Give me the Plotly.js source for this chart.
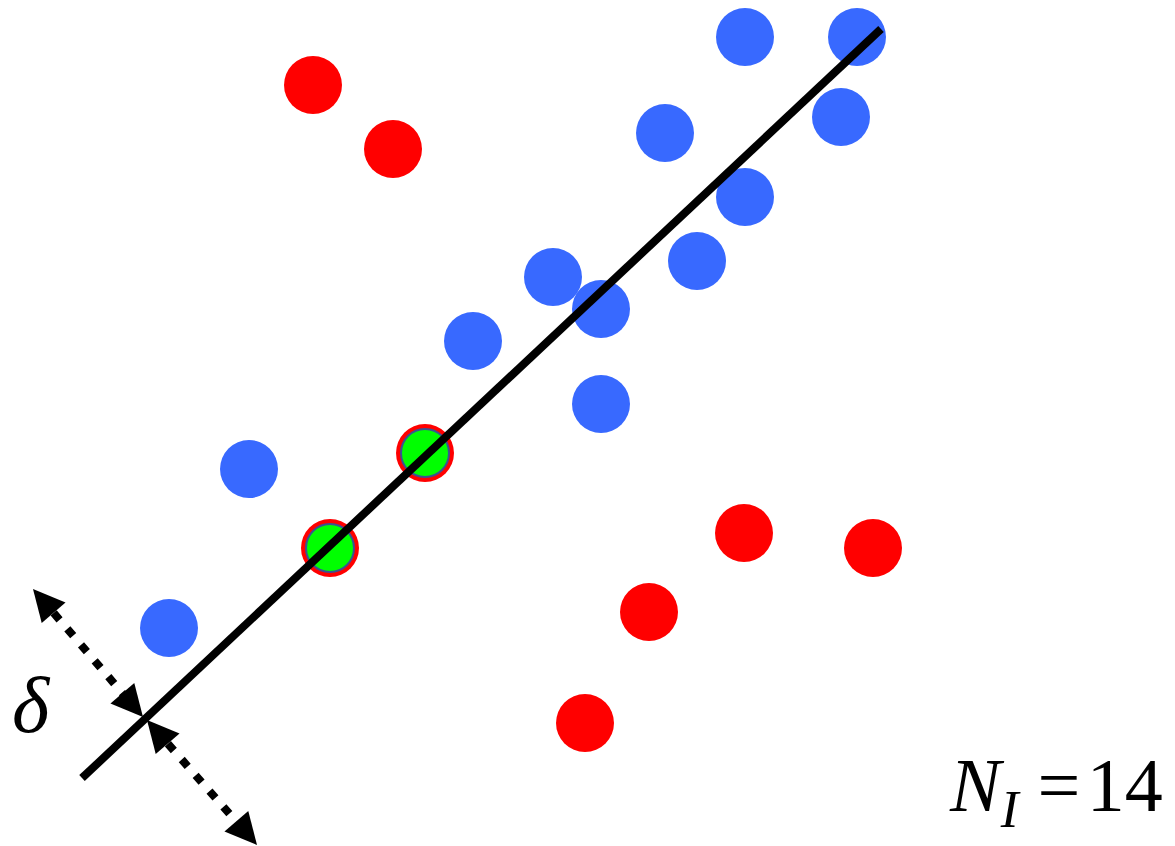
<!DOCTYPE html>
<html>
<head>
<meta charset="utf-8">
<script src="https://cdn.plot.ly/plotly-3.0.1.min.js"></script>
<style>html,body{margin:0;padding:0;background:#fff;}#chart{width:1175px;height:846px;}</style>
</head>
<body>
<div id="chart"></div>
<script>
// Outliers (red)
var outlierX = [313, 393, 744, 873, 649, 585];
var outlierY = [85, 149, 533, 548, 612, 723];
// Inliers (blue)
var inlierX = [745, 857, 841, 665, 745, 697, 553, 601, 473, 601, 249, 169];
var inlierY = [37, 37, 117, 133, 197, 261, 277, 309, 341, 404, 469, 628];
// Sampled points defining the model (green)
var sampleX = [425, 330];
var sampleY = [453, 548];
// Fitted line
var lineX = [82, 881];
var lineY = [778, 29];
// Threshold arrows (delta band)
var arrow1X = [40, 136];
var arrow1Y = [597, 709];
var arrow2X = [154, 250];
var arrow2Y = [728, 837];
var arrowTipX = [33, 143, 147, 257];
var arrowTipY = [589, 717, 720, 845];
var arrowTailX = [46, 130, 160, 244];
var arrowTailY = [604, 702, 735, 830];
// Labels
var deltaLabel = "<i>δ</i>";
var countLabel = "<i>N</i><sub><i>I</i></sub> =\u200A14";

var serif = "Liberation Serif";

var traces = [
  {x: outlierX, y: outlierY, mode: 'markers', type: 'scatter',
   marker: {size: 58, color: '#FF0000', line: {width: 0}}},
  {x: inlierX, y: inlierY, mode: 'markers', type: 'scatter',
   marker: {size: 58, color: '#3869FF', line: {width: 0}}},
  {x: sampleX, y: sampleY, mode: 'markers', type: 'scatter',
   marker: {size: 58, color: '#FF0000', line: {width: 0}}},
  {x: sampleX, y: sampleY, mode: 'markers', type: 'scatter',
   marker: {size: 48, color: '#00FF00', line: {width: 2, color: '#3A5390'}}},
  {x: lineX, y: lineY, mode: 'lines', type: 'scatter',
   line: {color: '#000000', width: 8}},
  {x: arrow1X, y: arrow1Y, mode: 'lines', type: 'scatter',
   line: {color: '#000000', width: 8, dash: '9px,12px'}},
  {x: arrow2X, y: arrow2Y, mode: 'lines', type: 'scatter',
   line: {color: '#000000', width: 8, dash: '9px,12px'}}
];

var annotations = [];
for (var i = 0; i < arrowTipX.length; i++) {
  annotations.push({
    x: arrowTipX[i], y: arrowTipY[i], xref: 'x', yref: 'y',
    ax: arrowTailX[i], ay: arrowTailY[i], axref: 'x', ayref: 'y',
    text: '', showarrow: true, arrowhead: 2, arrowsize: 2.1, arrowwidth: 3,
    arrowcolor: '#000000', standoff: 0
  });
}
annotations.push({
  x: 31, y: 705, xref: 'x', yref: 'y', text: deltaLabel, showarrow: false,
  xanchor: 'center', yanchor: 'middle',
  font: {family: serif, size: 80, color: '#000'}
});
annotations.push({
  x: 1165, y: 791, xref: 'x', yref: 'y', text: countLabel, showarrow: false,
  xanchor: 'right', yanchor: 'middle',
  font: {family: serif, size: 76, color: '#000'}
});

var layout = {
  width: 1175, height: 846,
  margin: {l: 0, r: 0, t: 0, b: 0, pad: 0},
  paper_bgcolor: '#ffffff', plot_bgcolor: '#ffffff',
  showlegend: false,
  xaxis: {range: [0, 1175], visible: false, fixedrange: true},
  yaxis: {range: [846, 0], visible: false, fixedrange: true},
  annotations: annotations
};

Plotly.newPlot('chart', traces, layout, {displayModeBar: false, staticPlot: true});
</script>
</body>
</html>
